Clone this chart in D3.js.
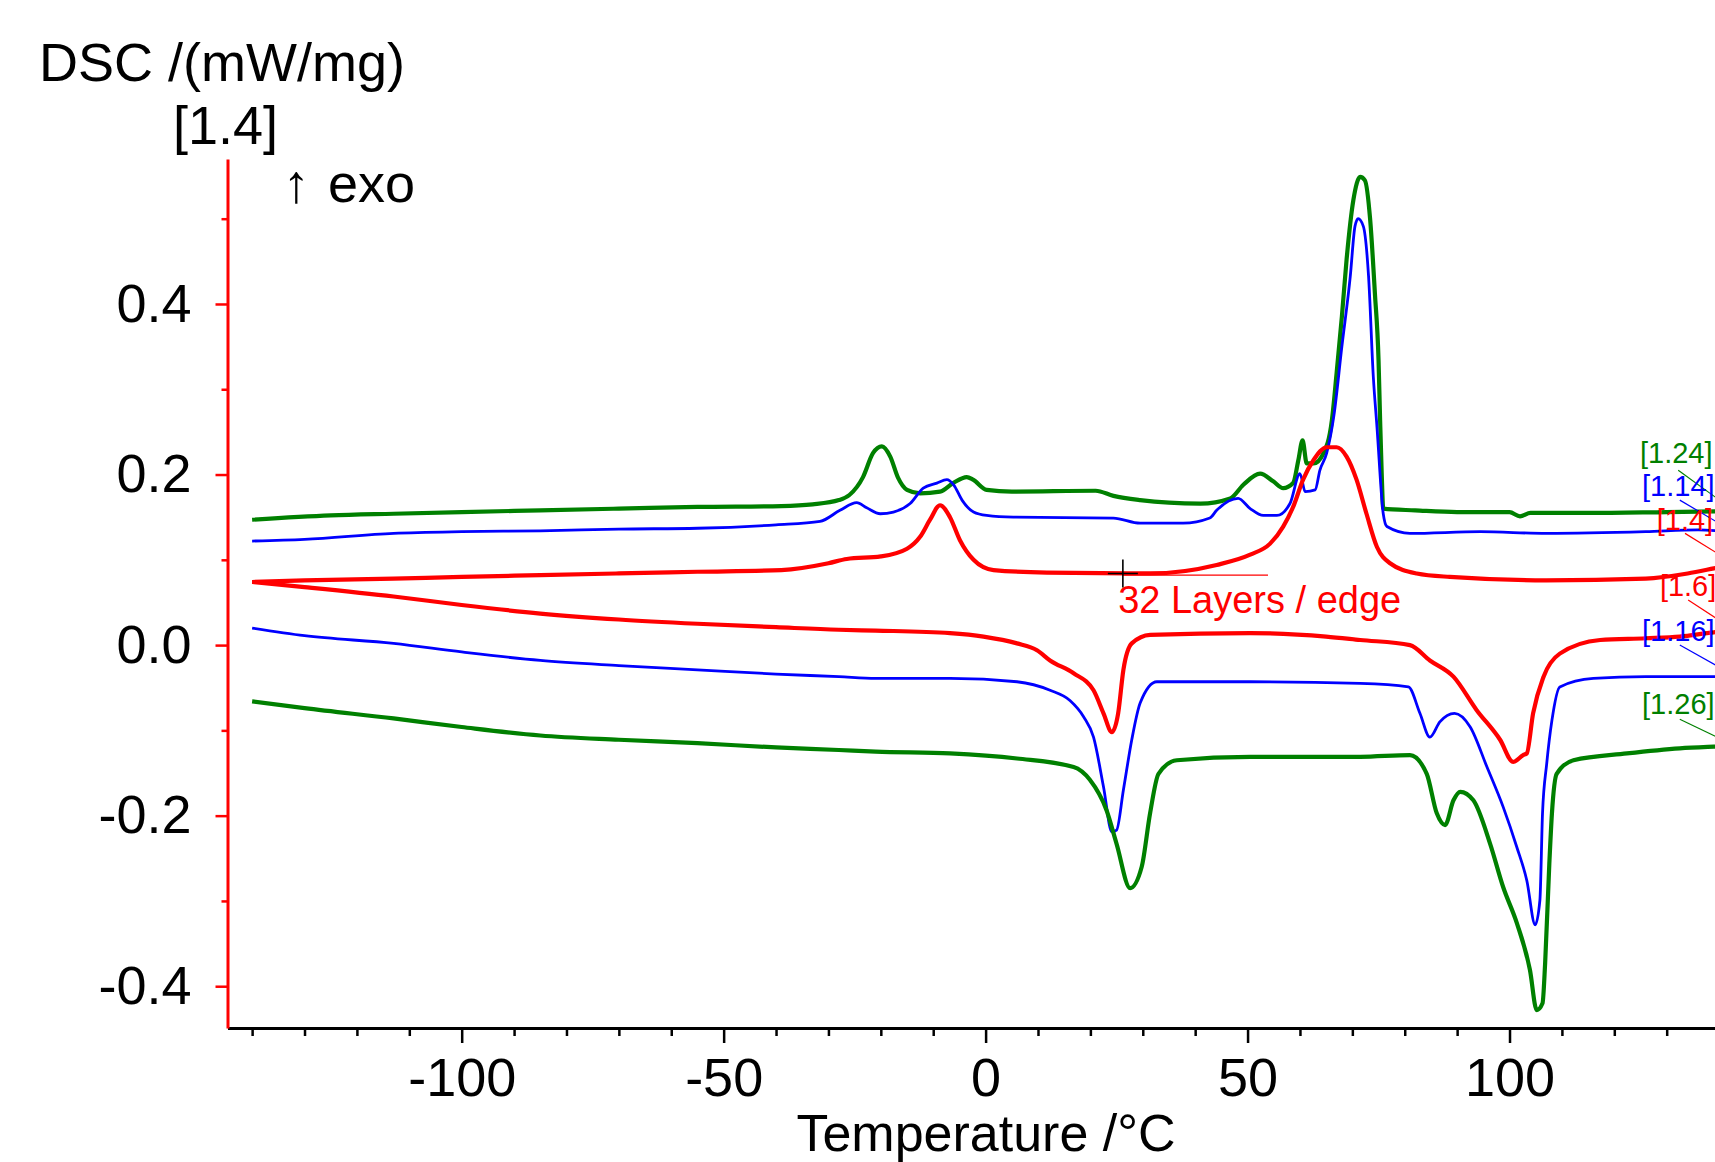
<!DOCTYPE html>
<html>
<head>
<meta charset="utf-8">
<script src="https://cdn.jsdelivr.net/npm/d3@7"></script>
<style>
  body { margin: 0; background: #fff; }
  text { font-family: "Liberation Sans", Arial, sans-serif; }
</style>
</head>
<body>
<div id="chart-area"></div>
<script>
// DSC curves, [temperature °C, DSC mW/mg]
const cool124 = [[-140,0.147],[-125,0.152],[-113,0.154],[-100,0.156],[-85,0.158],[-70,0.160],[-55,0.162],[-39,0.163],[-33,0.165],[-28,0.170],[-26,0.176],[-23.4,0.197],[-21.5,0.225],[-19.8,0.233],[-18.2,0.221],[-16.7,0.196],[-15,0.182],[-12.5,0.178],[-8.7,0.180],[-6.2,0.190],[-3.6,0.197],[-2.4,0.194],[0.2,0.182],[5,0.180],[21,0.181],[24.4,0.175],[29.5,0.170],[35,0.167],[41,0.166],[46.7,0.172],[49.2,0.188],[52.4,0.201],[54.9,0.192],[56.8,0.184],[58.7,0.190],[59.7,0.217],[60.5,0.240],[61.3,0.213],[62.6,0.213],[64.5,0.225],[66.1,0.264],[67,0.319],[68,0.385],[68.9,0.452],[70.2,0.522],[71.5,0.549],[72.4,0.545],[73.4,0.499],[74.3,0.413],[75,0.334],[75.3,0.264],[75.6,0.202],[75.9,0.160],[82,0.158],[90,0.156],[100,0.156],[102,0.151],[104,0.155],[115,0.155],[130,0.156],[143,0.157]];
const cool114 = [[-140,0.122],[-130,0.124],[-113,0.131],[-100,0.133],[-85,0.134],[-70,0.136],[-55,0.137],[-40,0.141],[-31.6,0.145],[-27.8,0.158],[-24.6,0.167],[-22.7,0.161],[-20.1,0.154],[-17.6,0.156],[-14.4,0.166],[-11.9,0.184],[-9.3,0.190],[-7.4,0.194],[-6.1,0.188],[-4.5,0.170],[-2.3,0.156],[0.2,0.152],[5.3,0.150],[24.4,0.149],[29.5,0.143],[37.7,0.143],[42.8,0.149],[44.1,0.158],[48.2,0.172],[50.5,0.160],[53,0.152],[55.6,0.152],[58.1,0.166],[60,0.201],[61,0.180],[62.9,0.182],[63.8,0.205],[65.1,0.225],[66.5,0.270],[68,0.350],[69.6,0.432],[70.5,0.491],[71.1,0.500],[72.1,0.491],[73.1,0.432],[74,0.315],[74.7,0.256],[75.9,0.154],[76.6,0.139],[81,0.131],[94.4,0.133],[107,0.131],[126,0.133],[136,0.135],[143,0.132]];
const cool14 = [[-140,0.074],[-130,0.076],[-113,0.078],[-100,0.080],[-85,0.082],[-70,0.084],[-55,0.086],[-39,0.088],[-30,0.096],[-26.5,0.101],[-20,0.104],[-15,0.113],[-12.5,0.127],[-10.6,0.147],[-8.7,0.164],[-6.8,0.150],[-4.9,0.123],[-2.3,0.100],[1.5,0.088],[11.7,0.085],[29.5,0.084],[31.4,0.084],[44.1,0.094],[50.5,0.106],[54.3,0.119],[56.8,0.139],[58.7,0.162],[60.6,0.194],[62.6,0.217],[65.1,0.232],[67,0.232],[68.9,0.221],[70.8,0.194],[72.7,0.154],[74.7,0.115],[77.2,0.096],[82.3,0.084],[88.6,0.080],[107,0.076],[126,0.078],[134,0.084],[139,0.090],[143,0.095]];
const heat16 = [[-140,0.074],[-130,0.068],[-113,0.057],[-100,0.047],[-85,0.037],[-70,0.030],[-55,0.025],[-40,0.021],[-28,0.018],[-21,0.017],[-6.8,0.014],[-0.4,0.010],[6,0.002],[9.8,-0.006],[12.3,-0.018],[16.8,-0.033],[20.6,-0.053],[22.5,-0.080],[24.1,-0.102],[25.3,-0.080],[26.3,-0.029],[27.9,0.002],[31.4,0.012],[50.5,0.014],[65,0.010],[71.5,0.006],[81,0.000],[84.8,-0.018],[89.3,-0.037],[93.7,-0.076],[98.2,-0.111],[100.7,-0.137],[102.6,-0.129],[103.3,-0.127],[104.5,-0.080],[106.5,-0.037],[109.6,-0.010],[117.3,0.006],[126,0.008],[132.5,0.010],[139,0.015],[143,0.017]];
const heat116 = [[-140,0.020],[-130,0.011],[-113,0.002],[-100,-0.008],[-85,-0.018],[-70,-0.024],[-55,-0.029],[-40,-0.034],[-28,-0.037],[-21,-0.039],[-6.8,-0.039],[6,-0.043],[12.3,-0.053],[16.1,-0.065],[18.7,-0.084],[20.6,-0.108],[22.5,-0.166],[24.1,-0.219],[25,-0.217],[26.3,-0.170],[27.9,-0.111],[29.5,-0.068],[32.7,-0.043],[50.5,-0.043],[71.5,-0.045],[80.7,-0.049],[82.9,-0.080],[84.8,-0.108],[86.7,-0.090],[89.5,-0.080],[92.5,-0.096],[95.7,-0.143],[98.8,-0.190],[101.4,-0.237],[103.3,-0.276],[104.9,-0.328],[105.8,-0.299],[106.3,-0.197],[107.1,-0.139],[108.1,-0.088],[109.6,-0.049],[116,-0.039],[126,-0.037],[139,-0.037],[143,-0.036]];
const heat126 = [[-140,-0.066],[-130,-0.074],[-113,-0.086],[-100,-0.096],[-85,-0.106],[-70,-0.111],[-55,-0.115],[-40,-0.120],[-28,-0.123],[-21,-0.125],[-6.8,-0.127],[6,-0.133],[16.8,-0.143],[19.9,-0.158],[23.1,-0.194],[25,-0.233],[27.6,-0.285],[29.8,-0.260],[31.4,-0.197],[33,-0.151],[36.5,-0.135],[50.5,-0.131],[71.5,-0.131],[81,-0.129],[84.2,-0.151],[86.1,-0.197],[87.7,-0.211],[89.3,-0.182],[90.6,-0.172],[93.1,-0.182],[96.3,-0.233],[98.8,-0.284],[101.4,-0.326],[103.9,-0.381],[105.2,-0.428],[106.3,-0.420],[106.8,-0.373],[107.6,-0.256],[108.1,-0.197],[109,-0.151],[112.2,-0.135],[122.4,-0.127],[132.5,-0.121],[139,-0.119],[143,-0.118]];

const seriesNames = ["[1.24]", "[1.14]", "[1.4]", "[1.6]", "[1.16]", "[1.26]"];
const xMajor = [-100, -50, 0, 50, 100];
const xMinor = [-140, -130, -120, -110, -90, -80, -70, -60, -40, -30, -20, -10, 10, 20, 30, 40, 60, 70, 80, 90, 110, 120, 130, 140];
const yMajor = [-0.4, -0.2, 0.0, 0.2, 0.4];
const yMinor = [-0.3, -0.1, 0.1, 0.3, 0.5];

const green = "#008000", blue = "#0000ff", red = "#ff0000";

const curves = [
    {data: cool124, color: green, w: 4.2, label: seriesNames[0], lx: 124.9, ly: 0.2135, sx: 132.2, sy: 0.205},
    {data: cool114, color: blue, w: 2.8, label: seriesNames[1], lx: 125.3, ly: 0.1745, sx: 132.5, sy: 0.170},
    {data: cool14, color: red, w: 4.2, label: seriesNames[2], lx: 128.1, ly: 0.135, sx: 133.5, sy: 0.131},
    {data: heat16, color: red, w: 4.2, label: seriesNames[3], lx: 128.7, ly: 0.057, sx: 134.1, sy: 0.053},
    {data: heat116, color: blue, w: 2.8, label: seriesNames[4], lx: 125.3, ly: 0.0045, sx: 132.5, sy: 0.000},
    {data: heat126, color: green, w: 4.2, label: seriesNames[5], lx: 125.3, ly: -0.081, sx: 132.5, sy: -0.087}
];

const svg = d3.select("#chart-area").append("svg")
    .attr("width", 1715)
    .attr("height", 1162);

const x = d3.scaleLinear().domain([-144.7, 143]).range([227.5, 1734.8]);
const y = d3.scaleLinear().domain([-0.449, 0.57]).range([1028, 159]);

// x axis
const xAxis = svg.append("g").attr("transform", "translate(0,1028)");
xAxis.call(d3.axisBottom(x).tickValues(xMajor).tickSize(15).tickSizeOuter(0).tickPadding(15).tickFormat(d => String(d)));
xAxis.append("g").call(d3.axisBottom(x).tickValues(xMinor).tickSize(8).tickFormat(""))
    .select(".domain").remove();
xAxis.selectAll("line").attr("stroke", "#000").attr("stroke-width", 2.5);
xAxis.select(".domain").attr("stroke", "#000").attr("stroke-width", 3);
xAxis.selectAll("text").attr("fill", "#000").attr("font-size", 54)
    .attr("font-family", "'Liberation Sans', Arial, sans-serif");

// y axis
const yAxis = svg.append("g").attr("transform", "translate(227.5,0)");
yAxis.call(d3.axisLeft(y).tickValues(yMajor).tickSize(12).tickSizeOuter(0).tickPadding(24).tickFormat(d => d.toFixed(1)));
yAxis.append("g").call(d3.axisLeft(y).tickValues(yMinor).tickSize(6).tickFormat(""))
    .select(".domain").remove();
yAxis.selectAll("line").attr("stroke", red).attr("stroke-width", 2.5);
yAxis.select(".domain").attr("stroke", red).attr("stroke-width", 3);
yAxis.selectAll("text").attr("fill", "#000").attr("font-size", 54)
    .attr("font-family", "'Liberation Sans', Arial, sans-serif");

// curves
const line = d3.line()
    .x(d => x(d[0]))
    .y(d => y(d[1]))
    .curve(d3.curveMonotoneX);

svg.selectAll(".curve")
    .data(curves).enter()
        .append("path")
            .attr("class", "curve")
            .attr("d", d => line(d.data))
            .attr("fill", "none")
            .attr("stroke", d => d.color)
            .attr("stroke-width", d => d.w)
            .attr("stroke-linejoin", "round");

// curve end labels with leader lines
svg.selectAll(".leader")
    .data(curves).enter()
        .append("line")
            .attr("class", "leader")
            .attr("x1", d => x(d.sx))
            .attr("y1", d => y(d.sy))
            .attr("x2", d => x(d.data[d.data.length - 1][0]))
            .attr("y2", d => y(d.data[d.data.length - 1][1]))
            .attr("stroke", d => d.color)
            .attr("stroke-width", 1.2);

svg.selectAll(".endlabel")
    .data(curves).enter()
        .append("text")
            .attr("class", "endlabel")
            .attr("x", d => x(d.lx))
            .attr("y", d => y(d.ly))
            .attr("fill", d => d.color)
            .attr("font-size", 29)
            .text(d => d.label);

// annotation
svg.append("line")
    .attr("x1", x(26.2)).attr("x2", x(53.9))
    .attr("y1", y(0.082)).attr("y2", y(0.082))
    .attr("stroke", red).attr("stroke-width", 1.3);
svg.append("path")
    .attr("d", `M${x(26.2) - 15},${y(0.084)}h30M${x(26.2)},${y(0.084) - 14}v28`)
    .attr("stroke", "#000").attr("stroke-width", 1.6);
svg.append("text")
    .attr("x", x(25.3)).attr("y", y(0.0375))
    .attr("fill", red).attr("font-size", 38)
    .text("32 Layers / edge");

// titles
svg.append("text").attr("x", 39).attr("y", 81).attr("font-size", 54).text("DSC /(mW/mg)");
svg.append("text").attr("x", 173).attr("y", 144).attr("font-size", 54).text("[1.4]");
svg.append("text").attr("x", 283).attr("y", 202).attr("font-size", 54).text("\u2191");
svg.append("text").attr("x", 328).attr("y", 202).attr("font-size", 54).text("exo");
svg.append("text").attr("x", 986).attr("y", 1151).attr("font-size", 52)
    .attr("text-anchor", "middle").text("Temperature /\u00B0C");
</script>
</body>
</html>
